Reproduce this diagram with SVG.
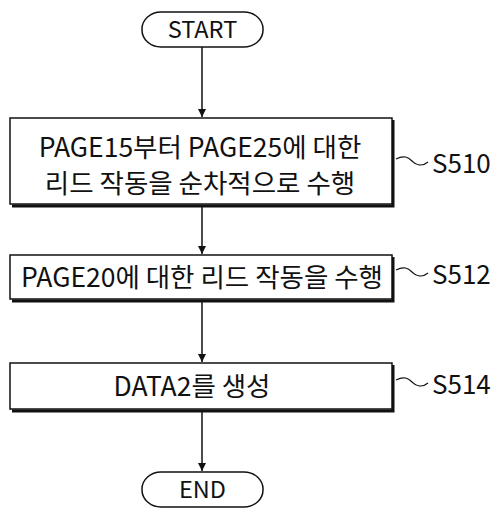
<svg xmlns="http://www.w3.org/2000/svg" width="496" height="512" viewBox="0 0 496 512">
<style>
.t{font-family:"Noto Sans CJK KR","Noto Sans",sans-serif;font-size:26.5px;fill:#111;text-anchor:middle}
.e{font-family:"Noto Sans CJK KR","Noto Sans",sans-serif;font-size:23.5px;fill:#111;text-anchor:middle}
.l{font-family:"Noto Sans CJK KR","Noto Sans",sans-serif;font-size:26px;fill:#111}
.b{fill:#fff;stroke:#111;stroke-width:1.5}
.s{fill:none;stroke:#111;stroke-width:3}
.c{fill:none;stroke:#111;stroke-width:1.5}
.w{fill:none;stroke:#111;stroke-width:1.2}
</style>
<defs>
<marker id="a" viewBox="0 0 10 10" refX="10" refY="5" markerWidth="8" markerHeight="10" markerUnits="userSpaceOnUse" orient="auto">
<path d="M0,0 L10,5 L0,10 z" fill="#111"/>
</marker>
</defs>
<rect width="496" height="512" fill="#fff"/>
<g id="connectors">
<line class="c" x1="202" y1="47" x2="202" y2="117" marker-end="url(#a)"/>
<line class="c" x1="202" y1="206" x2="202" y2="254" marker-end="url(#a)"/>
<line class="c" x1="202" y1="301" x2="202" y2="362" marker-end="url(#a)"/>
<line class="c" x1="202" y1="411" x2="202" y2="471" marker-end="url(#a)"/>
</g>
<g id="start">
<rect class="b" x="142" y="12" width="121" height="35" rx="19" ry="17"/>
<text class="e" x="202.5" y="38">START</text>
</g>
<g id="s510">
<path class="s" d="M393,120 V206 H12"/>
<rect class="b" x="10" y="118" width="382" height="86"/>
<text class="t" x="200" y="157">PAGE15부터 PAGE25에 대한</text>
<text class="t" x="200" y="193">리드 작동을 순차적으로 수행</text>
<path class="w" d="M396,159 C404,155 408,157 412,161 S422,167 428,162"/>
<text class="l" x="432" y="173">S510</text>
</g>
<g id="s512">
<path class="s" d="M393,257 V301 H12"/>
<rect class="b" x="10" y="255" width="382" height="44"/>
<text class="t" x="202" y="287">PAGE20에 대한 리드 작동을 수행</text>
<path class="w" d="M396,270 C404,266 408,268 412,272 S422,278 428,273"/>
<text class="l" x="432" y="284">S512</text>
</g>
<g id="s514">
<path class="s" d="M393,365 V411 H12"/>
<rect class="b" x="10" y="363" width="382" height="46"/>
<text class="t" x="192" y="396">DATA2를 생성</text>
<path class="w" d="M396,380 C404,376 408,378 412,382 S422,388 428,383"/>
<text class="l" x="432" y="394">S514</text>
</g>
<g id="end">
<rect class="b" x="142" y="472" width="121" height="35" rx="19" ry="17"/>
<text class="e" x="202.5" y="498">END</text>
</g>
</svg>
